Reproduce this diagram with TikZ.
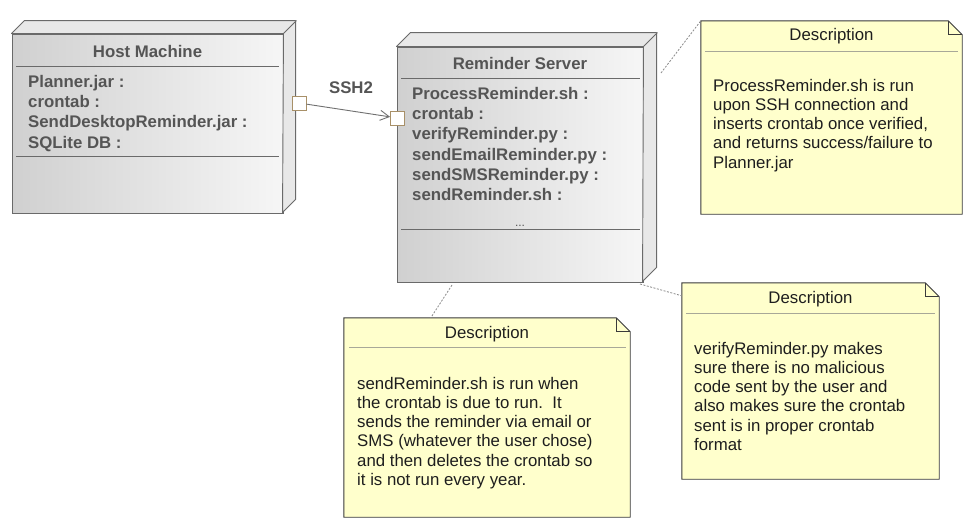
\documentclass[tikz,border=0pt]{standalone}
\usepackage{fontspec}
\setmainfont{Liberation Sans}
\usetikzlibrary{arrows.meta}
\definecolor{nodeline}{HTML}{6A6A6A}
\definecolor{nodetext}{HTML}{555555}
\definecolor{notefill}{HTML}{FFFFCC}
\definecolor{noteline}{HTML}{3A3A3A}
\definecolor{notesep}{HTML}{A8A898}
\definecolor{notetext}{HTML}{1E1E1E}
\definecolor{portline}{HTML}{A89068}
\definecolor{linkgray}{HTML}{8A8A8A}
\definecolor{arrowgray}{HTML}{707070}
\definecolor{shadeL}{HTML}{D0D0D0}
\definecolor{shadeR}{HTML}{F6F6F6}
\definecolor{facegray}{HTML}{E8E8E8}
\begin{document}
\begin{tikzpicture}[x=1pt,y=-1pt,
  front/.style={draw=nodeline,line width=0.9pt,left color=shadeL,right color=shadeR,rectangle,inner sep=0pt},
  faceline/.style={draw=nodeline,line width=0.9pt,fill=facegray,line join=round},
  sepline/.style={draw=nodeline,line width=0.9pt},
  btitle/.style={font=\bfseries\fontsize{16.8}{20.4}\selectfont,text=nodetext,inner sep=0pt},
  bitems/.style={font=\bfseries\fontsize{16.8}{20.35}\selectfont,text=nodetext,inner sep=0pt,align=left,anchor=north west},
  port/.style={draw=portline,fill=white,line width=0.9pt,rectangle,minimum width=14pt,minimum height=14pt,inner sep=0pt},
  link/.style={draw=arrowgray,line width=0.9pt,-{Straight Barb[length=9pt,width=10pt]}},
  notebox/.style={draw=none,rectangle,inner sep=0pt},
  noteborder/.style={draw=noteline,line width=0.9pt,fill=notefill,line join=miter},
  notesepline/.style={draw=notesep,line width=0.9pt},
  ntitle/.style={font=\fontsize{16.8}{19.2}\selectfont,text=notetext,inner sep=0pt},
  nbody/.style={font=\fontsize{16.8}{19.2}\selectfont,text=notetext,inner sep=0pt,align=left,anchor=north west},
  notelink/.style={draw=linkgray,line width=0.8pt,dash pattern=on 2pt off 1.5pt}
]
\fill[white] (0,0) rectangle (975,530);
\useasboundingbox (0,0) rectangle (975,530);

% ---------- Host Machine ----------
\node[front,minimum width=271pt,minimum height=179pt] (host) at (147.5,123.5) {};
\path[faceline] (host.north west) -- ++(13,-13) -- ++(271,0) -- ++(0,179) -- ++(-13,13) -- (host.north east) -- cycle;
\draw[sepline] (host.north east) -- ++(13,-13);
\node[btitle,anchor=base] (hostT) at (147.5,57.5) {Host Machine};
\draw[sepline] (16,66) -- (279,66);
\node[bitems] (hostI) at (28,74) {\rule{0pt}{13pt}Planner.jar :\\crontab :\\SendDesktopReminder.jar :\\SQLite DB :};
\draw[sepline] (16,156) -- (279,156);

% ---------- Reminder Server ----------
\node[front,minimum width=246pt,minimum height=235pt] (server) at (520,164.5) {};
\path[faceline] (server.north west) -- ++(14,-14) -- ++(246,0) -- ++(0,235) -- ++(-14,14) -- (server.north east) -- cycle;
\draw[sepline] (server.north east) -- ++(14,-14);
\node[btitle,anchor=base] (serverT) at (520,69) {Reminder Server};
\draw[sepline] (401,78) -- (640,78);
\node[bitems] (serverI) at (412,86) {\rule{0pt}{13pt}ProcessReminder.sh :\\crontab :\\verifyReminder.py :\\sendEmailReminder.py :\\sendSMSReminder.py :\\sendReminder.sh :};
\node[anchor=base,inner sep=0pt,text=nodetext,font=\fontsize{12}{14}\selectfont] (dots) at (520,226) {...};
\draw[sepline] (401,229.5) -- (640,229.5);

% ---------- Ports and link ----------
\node[port] (hp) at (299,103) {};
\node[port] (sp) at (397.5,118) {};
\draw[link] (hp) -- (sp);
\node[btitle,anchor=base] (ssh) at (351,93) {SSH2};

% ---------- Note 1 ----------
\node[notebox,minimum width=261pt,minimum height=193pt] (n1) at (831.5,117.5) {};
\path[noteborder] (n1.north west) -- ([xshift=-14pt]n1.north east) -- ([yshift=-14pt]n1.north east) -- (n1.south east) -- (n1.south west) -- cycle;
\draw[noteline,line width=0.9pt] ([xshift=-14pt]n1.north east) -- ([xshift=-14pt,yshift=-14pt]n1.north east) -- ([yshift=-14pt]n1.north east);
\node[ntitle,anchor=base] (n1T) at (831.5,40) {Description};
\draw[notesepline] (705,51) -- (958,51);
\node[nbody] (n1B) at (713,78) {\rule{0pt}{13pt}ProcessReminder.sh is run\\upon SSH connection and\\inserts crontab once verified,\\and returns success/failure to\\Planner.jar};

% ---------- Note 2 ----------
\node[notebox,minimum width=286pt,minimum height=199pt] (n2) at (487,417.5) {};
\path[noteborder] (n2.north west) -- ([xshift=-14pt]n2.north east) -- ([yshift=-14pt]n2.north east) -- (n2.south east) -- (n2.south west) -- cycle;
\draw[noteline,line width=0.9pt] ([xshift=-14pt]n2.north east) -- ([xshift=-14pt,yshift=-14pt]n2.north east) -- ([yshift=-14pt]n2.north east);
\node[ntitle,anchor=base] (n2T) at (487,338) {Description};
\draw[notesepline] (349,347) -- (626,347);
\node[nbody] (n2B) at (357,376) {\rule{0pt}{13pt}sendReminder.sh is run when\\the crontab is due to run.\ \ It\\sends the reminder via email or\\SMS (whatever the user chose)\\and then deletes the crontab so\\it is not run every year.};

% ---------- Note 3 ----------
\node[notebox,minimum width=257pt,minimum height=196pt] (n3) at (810.5,381) {};
\path[noteborder] (n3.north west) -- ([xshift=-14pt]n3.north east) -- ([yshift=-14pt]n3.north east) -- (n3.south east) -- (n3.south west) -- cycle;
\draw[noteline,line width=0.9pt] ([xshift=-14pt]n3.north east) -- ([xshift=-14pt,yshift=-14pt]n3.north east) -- ([yshift=-14pt]n3.north east);
\node[ntitle,anchor=base] (n3T) at (810.5,303) {Description};
\draw[notesepline] (686,313) -- (935,313);
\node[nbody] (n3B) at (694,341) {\rule{0pt}{13pt}verifyReminder.py makes\\sure there is no malicious\\code sent by the user and\\also makes sure the crontab\\sent is in proper crontab\\format};

% ---------- Note links ----------
\coordinate (s1) at (661,73);
\coordinate (s2) at (452,285);
\coordinate (s3) at (640,284);
\draw[notelink] (s1) -- (n1.north west);
\draw[notelink] (s2) -- ([xshift=87pt]n2.north west);
\draw[notelink] (s3) -- ([yshift=-13pt]n3.north west);
\end{tikzpicture}
\end{document}
